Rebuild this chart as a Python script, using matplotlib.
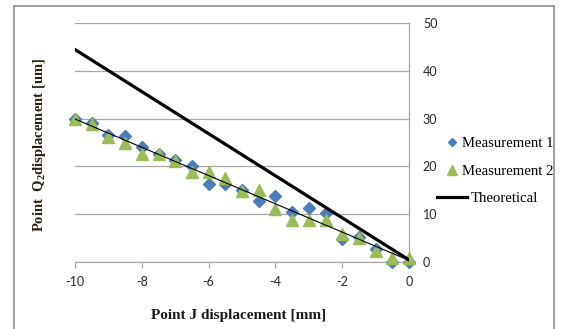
import matplotlib
matplotlib.use("Agg")
import matplotlib.pyplot as plt
from matplotlib.patches import Rectangle
from matplotlib.lines import Line2D


# ======================
# Data
# ======================

x_vals = [-10, -9.5, -9, -8.5, -8, -7.5, -7, -6.5, -6, -5.5, -5,
          -4.5, -4, -3.5, -3, -2.5, -2, -1.5, -1, -0.5, 0]

meas1 = [30.0, 29.0, 26.6, 26.4, 24.1, 22.6, 21.3, 20.2, 16.3, 16.3, 15.1,
         12.7, 13.8, 10.4, 11.4, 10.2, 4.9, 5.2, 2.7, 0.0, 0.0]

meas2 = [29.9, 28.8, 26.2, 25.0, 22.6, 22.6, 21.1, 18.8, 18.8, 17.5, 14.9,
         15.0, 11.1, 8.8, 8.8, 8.8, 6.0, 5.0, 2.4, 1.0, 1.0]

theory_x = [-10, 0]
theory_y = [44.4, 0.5]

trend_x = [-10, 0]
trend_y = [29.9, 0.4]

x_ticks = [-10, -8, -6, -4, -2, 0]
y_ticks = [0, 10, 20, 30, 40, 50]


# ======================
# Fonts / colours
# ======================

plt.rcParams["mathtext.fontset"] = "custom"
plt.rcParams["mathtext.rm"] = "Liberation Serif:bold"
plt.rcParams["mathtext.it"] = "Liberation Serif:bold"
plt.rcParams["mathtext.bf"] = "Liberation Serif:bold"

TICK_FONT = "Lato"
SERIF = "Liberation Serif"
GRID = "#a6a6a6"
BLUE = "#4a7ebb"
GREEN = "#9bbb59"


# ======================
# Figure
# ======================

fig = plt.figure(figsize=(5.63, 3.29), dpi=100)
ax = fig.add_axes([75 / 563, 1 - 262.3 / 329, 334 / 563, 239.6 / 329])

# outer chart border
fig.patches.append(Rectangle(
    (14 / 563, -0.1), 540 / 563, (329 - 6) / 329 + 0.1,
    transform=fig.transFigure, fill=False,
    edgecolor="#8c8c8c", linewidth=1.2
))

ax.plot(theory_x, theory_y, color="black", linewidth=2.3, zorder=4)
ax.plot(trend_x, trend_y, color="black", linewidth=0.8, zorder=5)
ax.plot(x_vals, meas1, linestyle="none", marker="D", markersize=5.8,
        color=BLUE, clip_on=False, zorder=3)
ax.plot(x_vals, meas2, linestyle="none", marker="^", markersize=9,
        color=GREEN, clip_on=False, zorder=3)

ax.set_xlim(-10, 0)
ax.set_ylim(0, 50)

ax.yaxis.tick_right()
ax.set_xticks(x_ticks)
ax.set_yticks(y_ticks)
ax.set_xticklabels([str(t) for t in x_ticks])
ax.set_yticklabels([str(t) for t in y_ticks])

for lab in ax.get_xticklabels() + ax.get_yticklabels():
    lab.set_fontfamily(TICK_FONT)
    lab.set_fontsize(9)
    lab.set_color("#262626")

ax.tick_params(axis="x", direction="out", length=4, width=0.9,
               color=GRID, pad=6)
ax.tick_params(axis="y", length=0, pad=10)

ax.grid(axis="y", color=GRID, linewidth=0.9)
ax.set_axisbelow(True)

for side in ["top", "left"]:
    ax.spines[side].set_visible(False)
for side in ["right", "bottom"]:
    ax.spines[side].set_color(GRID)
    ax.spines[side].set_linewidth(0.9)

ax.set_xlabel("Point J displacement [mm]", fontfamily=SERIF,
              fontweight="bold", fontsize=11, color="#1a1a1a")
ax.xaxis.set_label_coords(0.49, -0.195)

ax.yaxis.set_label_position("left")
ax.set_ylabel("Point  Q$_\\mathrm{2}$displacement [um]", fontfamily=SERIF,
              fontweight="bold", fontsize=10.5, color="#2a200f")
ax.yaxis.set_label_coords(-0.08, 0.49)


# ======================
# Legend (two parts: markers, then line)
# ======================

legend_font = {"family": SERIF, "size": 10.6}

marker_handles = [
    Line2D([], [], linestyle="none", marker="D", markersize=4.5, color=BLUE),
    Line2D([], [], linestyle="none", marker="^", markersize=6.5, color=GREEN),
]
leg1 = ax.legend(marker_handles, ["Measurement 1", "Measurement 2"],
                 loc="upper left", bbox_to_anchor=(446 / 563, 1 - 137 / 329),
                 bbox_transform=fig.transFigure, frameon=False,
                 prop=legend_font, handlelength=0.8, handletextpad=0.26,
                 labelspacing=0.98, borderpad=0, borderaxespad=0)
ax.add_artist(leg1)

line_handle = [Line2D([], [], color="black", linewidth=2.3)]
ax.legend(line_handle, ["Theoretical"],
          loc="upper left", bbox_to_anchor=(437 / 563, 1 - 192 / 329),
          bbox_transform=fig.transFigure, frameon=False,
          prop=legend_font, handlelength=2.03, handletextpad=0.26,
          borderpad=0, borderaxespad=0)

fig.savefig("out.png", dpi=100)
